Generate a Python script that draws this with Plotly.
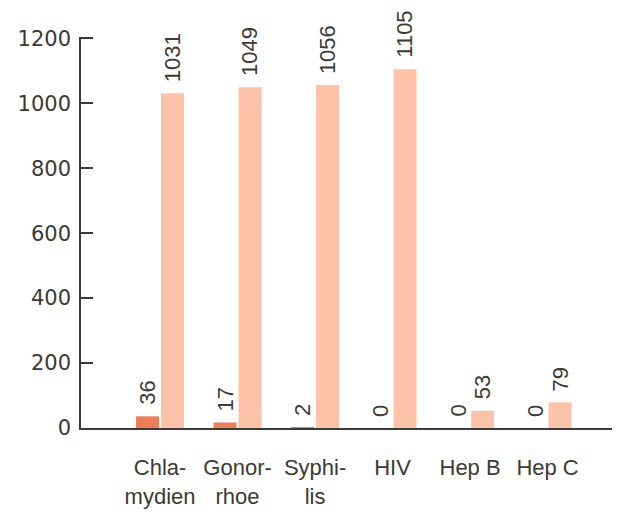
import plotly.graph_objects as go

categories = ["Chla-<br>mydien", "Gonor-<br>rhoe", "Syphi-<br>lis", "HIV", "Hep B", "Hep C"]
series_a = [36, 17, 2, 0, 0, 0]
series_b = [1031, 1049, 1056, 1105, 53, 79]
y_ticks = [0, 200, 400, 600, 800, 1000, 1200]

INK = "#3b3a33"
FONT = "Liberation Sans"
TICKFONT = "DejaVu Sans"

fig = go.Figure()
fig.add_bar(x=categories, y=series_a, marker_color="#f07d55", marker_line_width=0, showlegend=False)
fig.add_bar(x=categories, y=series_b, marker_color="#fdc3a9", marker_line_width=0, showlegend=False)

for vals, shift in ((series_a, -12.5), (series_b, 12.5)):
    for c, v in zip(categories, vals):
        fig.add_annotation(x=c, y=v, text=str(v), showarrow=False, textangle=-90,
                           xanchor="center", yanchor="bottom", xshift=shift, yshift=9,
                           font=dict(family=FONT, size=22, color=INK))

# page body adds an 8px margin, so the figure is sized/offset to compensate
fig.update_layout(
    width=612, height=508,
    margin=dict(l=73, r=5, t=29, b=88),
    paper_bgcolor="white", plot_bgcolor="white",
    barmode="group", bargap=0.355, bargroupgap=0.08,
    font=dict(family=FONT, size=22, color=INK),
)
fig.update_xaxes(range=[-1.02, 5.87], showline=True, linecolor=INK, linewidth=1.5,
                 ticks="outside", ticklen=19, tickcolor="rgba(0,0,0,0)", showgrid=False,
                 automargin=False,
                 tickfont=dict(family=FONT, size=22, color=INK))
fig.update_yaxes(range=[0, 1204], tickvals=y_ticks, showline=True, linecolor=INK, linewidth=1.5,
                 ticks="inside", ticklen=12, tickcolor=INK, tickwidth=1.5, showgrid=False,
                 zeroline=False, automargin=False, ticklabelstandoff=4,
                 tickfont=dict(family=TICKFONT, size=21, color=INK))

fig.write_html("out.html")
